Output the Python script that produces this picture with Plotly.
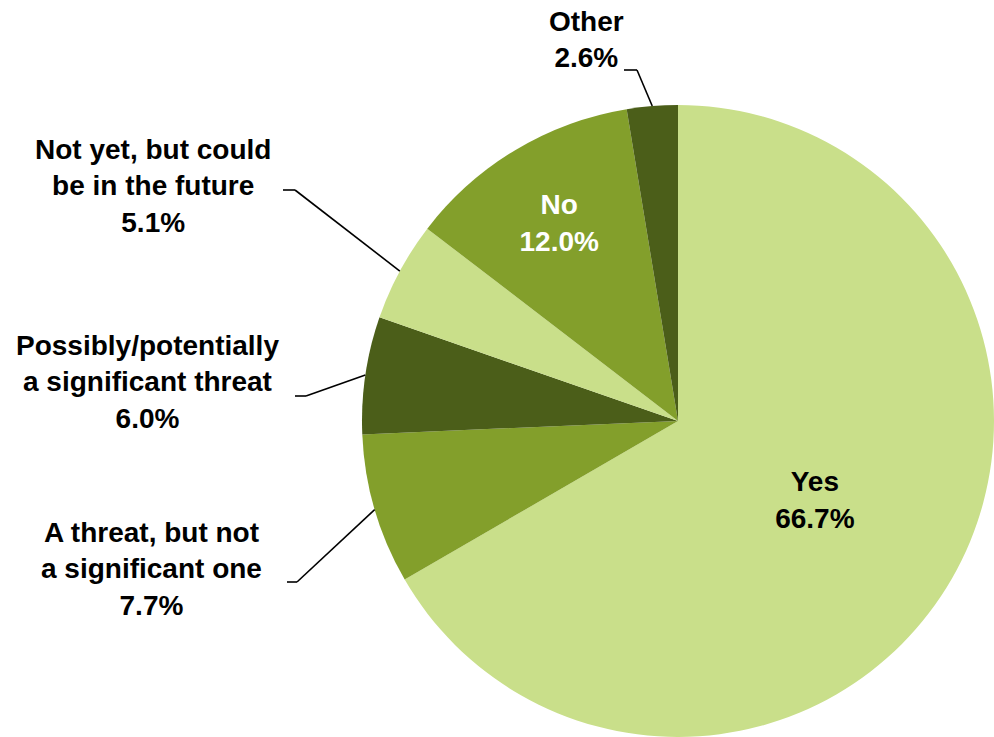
import math
import plotly.graph_objects as go

# ---- data ----
labels = ["Yes", "A threat, but not a significant one",
          "Possibly/potentially a significant threat",
          "Not yet, but could be in the future", "No", "Other"]
label_lines = ["Yes", "A threat, but not<br>a significant one",
               "Possibly/potentially<br>a significant threat",
               "Not yet, but could<br>be in the future", "No", "Other"]
values = [66.7, 7.7, 6.0, 5.1, 12.0, 2.6]
inside_label = [True, False, False, False, True, False]

# ---- styles ----
LIGHT, MID, DARK = "#C9DF8A", "#839F2B", "#4B5E19"
colors = [LIGHT, MID, DARK, LIGHT, MID, DARK]
inside_text_colors = ["#000000", "#000000", "#000000", "#000000", "#FFFFFF", "#000000"]
FONT = "Liberation Sans, Arial, sans-serif"
FS = 28

W, H = 994, 737
cx, cy, R = 678.0, 421.0, 316.0

# outside label layout: text centre (px) and start/elbow of leader line (px)
outside_layout = {
    "Other": dict(tx=586, ty=40, start=(624, 70), elbow=(637, 70)),
    "Not yet, but could be in the future": dict(tx=153, ty=186, start=(283, 190), elbow=(295, 190)),
    "Possibly/potentially a significant threat": dict(tx=147, ty=382, start=(295, 396), elbow=(306, 396)),
    "A threat, but not a significant one": dict(tx=151, ty=569, start=(287, 582), elbow=(297, 582)),
}

def px2paper(x, y):
    return x / W, 1 - y / H

texts = [f"{l}<br>{v:.1f}%" if ins else "" for l, v, ins in zip(label_lines, values, inside_label)]

dom_x = [max(0.0, (cx - R) / W), min(1.0, (cx + R) / W)]
dom_y = [max(0.0, 1 - (cy + R) / H), min(1.0, 1 - (cy - R) / H)]

fig = go.Figure(go.Pie(
    labels=labels, values=values, sort=False, direction="clockwise", rotation=0,
    marker=dict(colors=colors, line=dict(width=0)),
    text=texts, textinfo="text", textposition="inside",
    insidetextorientation="horizontal",
    textfont=dict(family=FONT, size=FS, color=inside_text_colors, weight="bold"),
    hoverinfo="skip", showlegend=False,
    domain=dict(x=dom_x, y=dom_y),
))

total = sum(values)
annotations, shapes = [], []
cum = 0.0
for lab, lines, v, ins in zip(labels, label_lines, values, inside_label):
    mid = (cum + v / 2) / total * 360.0
    cum += v
    if ins:
        continue
    lay = outside_layout[lab]
    th = math.radians(mid)
    ex, ey = cx + R * math.sin(th), cy - R * math.cos(th)
    ax, ay = px2paper(lay["tx"], lay["ty"])
    annotations.append(dict(
        x=ax, y=ay, xref="paper", yref="paper", xanchor="center", yanchor="middle",
        text=f"{lines}<br>{v:.1f}%", showarrow=False, align="center",
        font=dict(family=FONT, size=FS, color="#000000", weight="bold"),
    ))
    pts = [lay["start"], lay["elbow"], (ex, ey)]
    for (x0, y0), (x1, y1) in zip(pts[:-1], pts[1:]):
        p0, p1 = px2paper(x0, y0), px2paper(x1, y1)
        shapes.append(dict(type="line", xref="paper", yref="paper",
                           x0=p0[0], y0=p0[1], x1=p1[0], y1=p1[1],
                           line=dict(color="#000000", width=1.6)))

fig.update_layout(
    width=W, height=H, margin=dict(l=0, r=0, t=0, b=0),
    paper_bgcolor="#FFFFFF", plot_bgcolor="#FFFFFF",
    annotations=annotations, shapes=shapes,
    uniformtext=dict(minsize=FS, mode="show"),
)

fig.write_html("out.html")
